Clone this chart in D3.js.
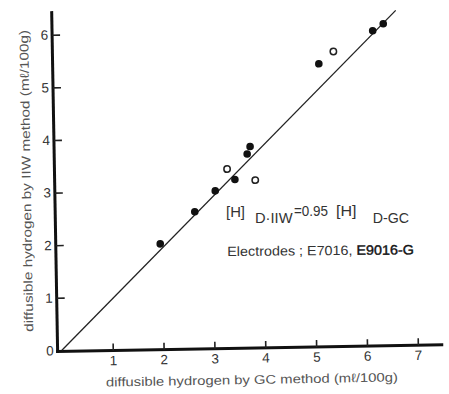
<!DOCTYPE html>
<html>
<head>
<meta charset="utf-8">
<script src="https://cdnjs.cloudflare.com/ajax/libs/d3/7.8.5/d3.min.js"></script>
<style>
  body { margin: 0; background: #fff; }
  svg { display: block; font-family: "Liberation Sans", Arial, sans-serif; }
</style>
</head>
<body>
<div id="scatter"></div>
<script>
// values
var gcFilled = [1.97, 2.66, 3.07, 3.46, 3.71, 3.77, 5.15, 6.22, 6.43];
var iiwFilled = [1.99, 2.59, 2.98, 3.19, 3.67, 3.81, 5.36, 5.97, 6.10];
var gcOpen = [3.31, 3.86, 5.44];
var iiwOpen = [3.39, 3.17, 5.59];
var fitX = [0, 6.68];
var fitY = [0, 6.35];
var xTicks = [1, 2, 3, 4, 5, 6, 7];
var yTicks = [0, 1, 2, 3, 4, 5, 6];
var xTitle = "diffusible hydrogen by GC method  (m\u2113/100g)";
var yTitle = "diffusible hydrogen by IIW method (m\u2113/100g)";

var svgWidth = 449;
var svgHeight = 394;

var svg = d3.select("#scatter")
    .append("svg")
    .attr("width", svgWidth)
    .attr("height", svgHeight);

// the scan is turned about a degree
var chartGroup = svg.append("g")
    .attr("transform", "rotate(-1, 250, 200)");

var xLinearScale = d3.scaleLinear()
    .domain([0, 7.5])
    .range([59.3, 440.7]);

var yLinearScale = d3.scaleLinear()
    .domain([0, 6.45])
    .range([347, 7.7]);

var axisY0 = yLinearScale(0) + 1.2;
var axisX0 = xLinearScale(0) - 4.3;

// axis lines
chartGroup.append("line")
    .attr("x1", axisX0 - 1.5)
    .attr("x2", xLinearScale(7.5))
    .attr("y1", axisY0)
    .attr("y2", axisY0)
    .attr("stroke", "#111")
    .attr("stroke-width", 3);

chartGroup.append("line")
    .attr("x1", axisX0)
    .attr("x2", axisX0)
    .attr("y1", yLinearScale(6.45))
    .attr("y2", axisY0 + 1.5)
    .attr("stroke", "#111")
    .attr("stroke-width", 3);

var bottomAxis = d3.axisBottom(xLinearScale)
    .tickValues(xTicks)
    .tickFormat(d3.format("d"))
    .tickSizeInner(-7)
    .tickSizeOuter(0)
    .tickPadding(5);

var leftAxis = d3.axisLeft(yLinearScale)
    .tickValues(yTicks)
    .tickFormat(d3.format("d"))
    .tickSizeInner(-8)
    .tickSizeOuter(0)
    .tickPadding(4);

var xAxis = chartGroup.append("g")
    .attr("transform", `translate(0, ${axisY0})`)
    .call(bottomAxis);

var yAxis = chartGroup.append("g")
    .attr("transform", `translate(${axisX0}, 0)`)
    .call(leftAxis);

[xAxis, yAxis].forEach(function(ax) {
    ax.select(".domain").remove();
    ax.selectAll("line").attr("stroke", "#222").attr("stroke-width", 1.6);
    ax.selectAll("text")
        .attr("fill", "#333")
        .style("font-size", "13.5px")
        .style("font-family", "Liberation Sans, Arial, sans-serif");
});
// no tick mark at zero on the y axis
yAxis.selectAll(".tick").filter(d => d === 0).select("line").remove();

// regression line
chartGroup.append("line")
    .attr("x1", xLinearScale(fitX[0]))
    .attr("y1", yLinearScale(fitY[0]))
    .attr("x2", xLinearScale(fitX[1]))
    .attr("y2", yLinearScale(fitY[1]))
    .attr("stroke", "#222")
    .attr("stroke-width", 1.3);

// filled points
chartGroup.selectAll("circle.filled")
    .data(gcFilled)
    .enter()
    .append("circle")
    .attr("class", "filled")
    .attr("cx", d => xLinearScale(d))
    .attr("cy", (d, i) => yLinearScale(iiwFilled[i]))
    .attr("r", 3.8)
    .attr("fill", "#111");

// open points
chartGroup.selectAll("circle.open")
    .data(gcOpen)
    .enter()
    .append("circle")
    .attr("class", "open")
    .attr("cx", d => xLinearScale(d))
    .attr("cy", (d, i) => yLinearScale(iiwOpen[i]))
    .attr("r", 3.2)
    .attr("fill", "#fff")
    .attr("stroke", "#222")
    .attr("stroke-width", 1.5);

// axis titles
chartGroup.append("text")
    .attr("x", 248.8)
    .attr("y", 384)
    .attr("text-anchor", "middle")
    .attr("textLength", 292)
    .attr("lengthAdjust", "spacingAndGlyphs")
    .style("font-size", "12.5px")
    .attr("fill", "#555")
    .text(xTitle);

chartGroup.append("text")
    .attr("transform", "translate(31, 177) rotate(-90)")
    .attr("text-anchor", "middle")
    .attr("textLength", 302)
    .attr("lengthAdjust", "spacingAndGlyphs")
    .style("font-size", "12.5px")
    .attr("fill", "#555")
    .text(yTitle);

// equation note
var note = svg.append("g")
    .attr("fill", "#333")
    .style("font-size", "14px");

var pieces = [
    {t: "[H]", x: 226, y: 217, w: 19},
    {t: "D\u00b7IIW", x: 255, y: 222.5, w: 37.5},
    {t: "=0.95", x: 294, y: 216, w: 34},
    {t: "[H]", x: 336, y: 216, w: 20.5},
    {t: "D-GC", x: 372.7, y: 222.5, w: 36.3}
];

note.selectAll("text")
    .data(pieces)
    .enter()
    .append("text")
    .attr("x", d => d.x)
    .attr("y", d => d.y)
    .attr("textLength", d => d.w)
    .attr("lengthAdjust", "spacingAndGlyphs")
    .text(d => d.t);

var elec = svg.append("text")
    .attr("x", 227.3)
    .attr("y", 256)
    .attr("textLength", 186.7)
    .attr("lengthAdjust", "spacingAndGlyphs")
    .attr("transform", "rotate(-0.5, 227, 256)")
    .attr("fill", "#333")
    .style("font-size", "13.5px");
elec.append("tspan").text("Electrodes ; E7016, ");
elec.append("tspan")
    .attr("fill", "#111")
    .attr("stroke", "#111")
    .attr("stroke-width", 0.4)
    .text("E9016-G");
</script>
</body>
</html>
